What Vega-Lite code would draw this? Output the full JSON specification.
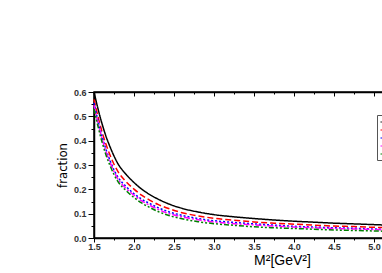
{
  "$schema": "https://vega.github.io/schema/vega-lite/v6.json",
  "autosize": "none",
  "width": 320,
  "height": 146,
  "padding": {"left": 94, "top": 92, "right": 10, "bottom": 35},
  "background": "white",
  "config": {
    "view": {"stroke": "#000", "strokeWidth": 1.5},
    "legend": {"strokeColor": "#555", "fillColor": "white", "padding": 3, "labelFontSize": 6, "symbolType": "stroke", "symbolSize": 49, "symbolStrokeWidth": 1, "rowPadding": 1, "labelFont": "Liberation Sans"}
  },
  "data": {"values": [
    {"m2": 1.5, "A": 0.600, "B": 0.570, "C": 0.555, "D": 0.546, "E": 0.531},
    {"m2": 1.55, "A": 0.531, "B": 0.499, "C": 0.483, "D": 0.473, "E": 0.459},
    {"m2": 1.6, "A": 0.470, "B": 0.437, "C": 0.418, "D": 0.409, "E": 0.395},
    {"m2": 1.65, "A": 0.418, "B": 0.385, "C": 0.364, "D": 0.355, "E": 0.341},
    {"m2": 1.7, "A": 0.375, "B": 0.341, "C": 0.319, "D": 0.311, "E": 0.298},
    {"m2": 1.75, "A": 0.337, "B": 0.303, "C": 0.280, "D": 0.273, "E": 0.261},
    {"m2": 1.8, "A": 0.305, "B": 0.273, "C": 0.250, "D": 0.242, "E": 0.232},
    {"m2": 1.9, "A": 0.262, "B": 0.232, "C": 0.212, "D": 0.204, "E": 0.195},
    {"m2": 2.0, "A": 0.228, "B": 0.201, "C": 0.182, "D": 0.176, "E": 0.166},
    {"m2": 2.1, "A": 0.200, "B": 0.175, "C": 0.159, "D": 0.152, "E": 0.143},
    {"m2": 2.2, "A": 0.178, "B": 0.155, "C": 0.141, "D": 0.134, "E": 0.125},
    {"m2": 2.3, "A": 0.160, "B": 0.138, "C": 0.125, "D": 0.118, "E": 0.109},
    {"m2": 2.45, "A": 0.138, "B": 0.119, "C": 0.106, "D": 0.099, "E": 0.091},
    {"m2": 2.6, "A": 0.122, "B": 0.104, "C": 0.093, "D": 0.087, "E": 0.079},
    {"m2": 2.8, "A": 0.107, "B": 0.091, "C": 0.080, "D": 0.075, "E": 0.067},
    {"m2": 3.0, "A": 0.096, "B": 0.081, "C": 0.071, "D": 0.066, "E": 0.059},
    {"m2": 3.25, "A": 0.087, "B": 0.073, "C": 0.064, "D": 0.059, "E": 0.052},
    {"m2": 3.5, "A": 0.080, "B": 0.066, "C": 0.058, "D": 0.054, "E": 0.046},
    {"m2": 3.75, "A": 0.074, "B": 0.061, "C": 0.053, "D": 0.049, "E": 0.042},
    {"m2": 4.0, "A": 0.069, "B": 0.057, "C": 0.048, "D": 0.045, "E": 0.039},
    {"m2": 4.25, "A": 0.065, "B": 0.053, "C": 0.045, "D": 0.042, "E": 0.036},
    {"m2": 4.5, "A": 0.061, "B": 0.049, "C": 0.042, "D": 0.039, "E": 0.033},
    {"m2": 4.75, "A": 0.058, "B": 0.047, "C": 0.040, "D": 0.037, "E": 0.031},
    {"m2": 5.0, "A": 0.055, "B": 0.044, "C": 0.037, "D": 0.035, "E": 0.029},
    {"m2": 5.25, "A": 0.052, "B": 0.041, "C": 0.035, "D": 0.0325, "E": 0.027},
    {"m2": 5.5, "A": 0.050, "B": 0.040, "C": 0.034, "D": 0.031, "E": 0.026}
  ]},
  "transform": [{"fold": ["A", "B", "C", "D", "E"], "as": ["series", "fraction"]}],
  "layer": [
    {
      "mark": {"type": "line", "interpolate": "monotone", "strokeWidth": 1.5},
      "encoding": {
        "x": {
          "field": "m2", "type": "quantitative",
          "scale": {"domain": [1.5, 5.5], "nice": false, "zero": false},
          "axis": {
            "orient": "bottom",
            "values": [1.5, 1.75, 2.0, 2.25, 2.5, 2.75, 3.0, 3.25, 3.5, 3.75, 4.0, 4.25, 4.5, 4.75, 5.0, 5.25, 5.5],
            "labelExpr": "abs(datum.value*2 - round(datum.value*2)) < 0.01 ? format(datum.value, '.1f') : ''",
            "tickSize": {"condition": {"test": "abs(datum.value*2 - round(datum.value*2)) < 0.01", "value": 4}, "value": 2},
            "tickColor": "#000", "tickWidth": 1,
            "domainColor": "#000", "domainWidth": 1.5,
            "grid": false, "labelFlush": false, "labelOverlap": false,
            "labelFont": "Liberation Sans", "labelFontSize": 9, "labelFontWeight": "bold", "labelColor": "#333", "labelPadding": 0,
            "title": "M²[GeV²]", "titleFont": "Liberation Sans", "titleFontSize": 14, "titleFontWeight": "normal", "titleColor": "#000",
            "titleX": 188, "titlePadding": 2
          }
        },
        "y": {
          "field": "fraction", "type": "quantitative",
          "scale": {"domain": [0, 0.6], "nice": false},
          "axis": {
            "values": [0, 0.05, 0.1, 0.15, 0.2, 0.25, 0.3, 0.35, 0.4, 0.45, 0.5, 0.55, 0.6],
            "labelExpr": "abs(datum.value*10 - round(datum.value*10)) < 0.01 ? format(datum.value, '.1f') : ''",
            "tickSize": {"condition": {"test": "abs(datum.value*10 - round(datum.value*10)) < 0.01", "value": 6}, "value": 3},
            "tickColor": "#000", "tickWidth": 1,
            "domainColor": "#000", "domainWidth": 1.5,
            "grid": false, "labelFlush": false, "labelOverlap": false,
            "labelFont": "Liberation Sans", "labelFontSize": 9, "labelFontWeight": "bold", "labelColor": "#333", "labelPadding": 2,
            "title": "fraction", "titleFont": "Liberation Sans Narrow, DejaVu Sans Condensed, Arial Narrow, sans-serif", "titleFontSize": 13, "titleFontWeight": "normal", "titleColor": "#000",
            "titlePadding": 4
          }
        },
        "color": {
          "field": "series", "type": "nominal",
          "scale": {"domain": ["A", "B", "C", "D", "E"], "range": ["#000000", "#ff0000", "#0000ff", "#ff00ff", "#008000"]},
          "legend": {"orient": "none", "legendX": 283, "legendY": 23, "title": null}
        },
        "strokeDash": {
          "field": "series", "type": "nominal",
          "scale": {"domain": ["A", "B", "C", "D", "E"], "range": [[1, 0], [6, 3], [2, 2], [6, 2, 2, 2], [5, 2, 2, 2, 2, 2]]},
          "legend": {"orient": "none", "legendX": 283, "legendY": 23, "title": null}
        }
      }
    },
    {
      "mark": {"type": "line", "opacity": 0},
      "encoding": {
        "x": {
          "field": "m2", "type": "quantitative",
          "axis": {
            "orient": "top",
            "values": [1.5, 1.75, 2.0, 2.25, 2.5, 2.75, 3.0, 3.25, 3.5, 3.75, 4.0, 4.25, 4.5, 4.75, 5.0, 5.25, 5.5],
            "labels": false,
            "tickSize": {"condition": {"test": "abs(datum.value*2 - round(datum.value*2)) < 0.01", "value": -4}, "value": -2},
            "tickColor": "#000", "tickWidth": 1,
            "domainColor": "#000", "domainWidth": 1.5,
            "grid": false, "title": null
          }
        },
        "y": {"field": "fraction", "type": "quantitative", "axis": null},
        "detail": {"field": "series", "type": "nominal"}
      }
    }
  ],
  "resolve": {"axis": {"x": "independent", "y": "independent"}}
}
